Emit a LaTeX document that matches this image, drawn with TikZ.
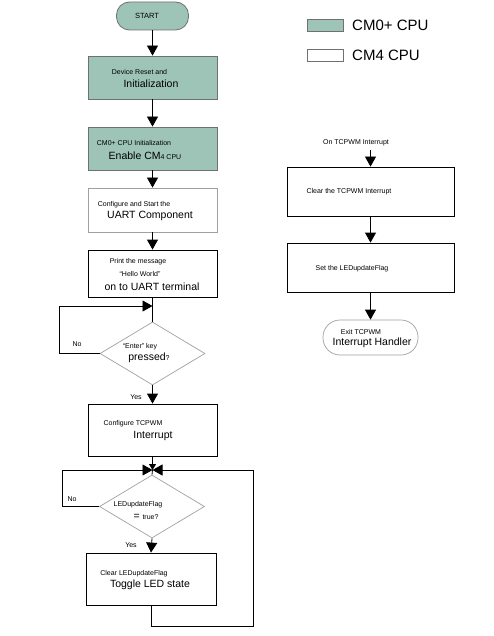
\documentclass[tikz,border=0pt]{standalone}
\usepackage{fontspec}
\setmainfont{Liberation Sans}
\usetikzlibrary{shapes.geometric,arrows.meta,calc}
\definecolor{cmzero}{RGB}{157,196,182}
\definecolor{edgegray}{RGB}{112,112,112}
\definecolor{lightedge}{RGB}{160,160,160}
\newcommand{\smalltxt}{\fontsize{7}{8}\selectfont}
\newcommand{\bigtxt}{\fontsize{10.5}{12}\selectfont}

\begin{document}
\begin{tikzpicture}[x=1pt, y=-1pt,
  arrow/.style={-{Triangle[length=10pt, width=11pt]}, line width=0.8pt},
  minor arrow/.style={-{Triangle[length=6pt, width=7pt]}, line width=0.8pt},
  link/.style={line width=0.8pt},
  box/.style={draw, line width=0.8pt, minimum width=129pt, minimum height=43pt, inner sep=0pt},
  cmbox/.style={box, draw=edgegray, fill=cmzero},
  cmfour/.style={box, draw=lightedge, fill=white},
  plainbox/.style={box, draw=black},
  decision/.style={diamond, draw=lightedge, line width=0.7pt, minimum width=105pt, minimum height=63pt, inner sep=0pt},
  terminal/.style={draw=lightedge, line width=0.7pt, inner sep=0pt},
  small/.style={font=\smalltxt, inner sep=0pt},
  big/.style={font=\bigtxt, inner sep=0pt},
]
\useasboundingbox (0,0) rectangle (494,636);

% === LEGEND ===
\node[cmbox, minimum width=36pt, minimum height=12pt] (leg0) at (325,25) {};
\node[cmfour, draw=edgegray, minimum width=36pt, minimum height=12pt] (leg4) at (325,55) {};
\node[font=\fontsize{15}{17}\selectfont, anchor=west, inner sep=0pt] (leg0txt) at (352,25) {CM0+ CPU};
\node[font=\fontsize{15}{17}\selectfont, anchor=west, inner sep=0pt] (leg4txt) at (352,55) {CM4 CPU};

% === MAIN FLOW (left) ===
\node[cmbox, draw=edgegray, rounded corners=13pt, minimum width=72pt, minimum height=28pt] (start) at (152.5,16) {};
\node[small, font=\fontsize{7.5}{9}\selectfont] (starttxt) at (147,16) {START};

\node[cmbox] (reset) at (152.5,77.5) {};
\node[small] (reset1) at (139.5,72) {Device Reset and};
\node[big] (reset2) at (151,84) {Initialization};

\node[cmbox] (init) at (152.5,148.5) {};
\node[small] (init1) at (134,143) {CM0+ CPU Initialization};
\node[big] (init2) at (145,156) {Enable CM{\smalltxt 4 CPU}};

\node[cmfour, minimum height=44pt] (uart) at (152.5,210) {};
\node[small] (uart1) at (134,205) {Configure and Start the};
\node[big] (uart2) at (150,216) {UART Component};

\node[plainbox, minimum height=47pt] (hello) at (152.5,273.5) {};
\node[small] (hello1) at (138,262) {Print the message};
\node[small] (hello2) at (140,274) {“Hello World”};
\node[big] (hello3) at (152,287) {on to UART terminal};

\node[decision] (enter) at (152.5,353.5) {};
\node[small] (enter1) at (140,347) {“Enter” key};
\node[big] (enter2) at (149,358) {pressed{\smalltxt ?}};
\coordinate (join1) at (152.5,306);
\coordinate (noloop1) at (59,306);

\node[plainbox, minimum height=52pt] (tcpwm) at (152.5,430) {};
\node[small] (tcpwm1) at (133,424) {Configure TCPWM};
\node[big] (tcpwm2) at (153,436) {Interrupt};

\coordinate (merge) at (152.5,470);
\node[decision] (flag) at (152,506.5) {};
\node[small] (flag1) at (138,505) {LEDupdateFlag};
\node[big] (flag2) at (146,517) {= {\smalltxt true?}};
\coordinate (noloop2) at (62,470);

\node[plainbox, minimum width=130pt, minimum height=52pt] (toggle) at (151,579) {};
\node[small] (toggle1) at (134,574) {Clear LEDupdateFlag};
\node[big] (toggle2) at (150,585) {Toggle LED state};
\coordinate (backloop) at (253,626);

\draw[arrow] (start.south) -- (reset.north);
\draw[arrow] (reset.south) -- (init.north);
\draw[arrow] (init.south) -- (uart.north);
\draw[arrow] (uart.south) -- (hello.north);
\draw[link] (hello.south) -- (enter.north);
\draw[arrow] (enter.west) -| (noloop1) -- (join1);
\node[small] (no1) at (77,344) {No};
\draw[arrow] (enter.south) -- (tcpwm.north);
\node[small] (yes1) at (136,397) {Yes};

\draw[minor arrow] (tcpwm.south) -- (merge);
\draw[arrow] (flag.west) -| (noloop2) -- (merge);
\node[small] (no2) at (72,499) {No};
\draw[arrow] (toggle.south) |- (backloop) |- (merge);
\draw[link] (merge) -- (flag.north);
\draw[arrow] (flag.south) -- (toggle.north);
\node[small] (yes2) at (131,545) {Yes};

% === TCPWM INTERRUPT HANDLER (right) ===
\node[small] (isr) at (356,143) {On TCPWM Interrupt};
\node[plainbox, minimum width=167pt, minimum height=49pt] (clearint) at (370.5,191.5) {};
\node[small] (clearint1) at (349,192) {Clear the TCPWM Interrupt};
\node[plainbox, minimum width=167pt, minimum height=49pt] (setflag) at (370.5,267.5) {};
\node[small] (setflag1) at (352,269) {Set the LEDupdateFlag};
\node[terminal, rounded corners=17pt, minimum width=95pt, minimum height=35pt] (exit) at (370.5,337.5) {};
\node[small] (exit1) at (361,332) {Exit TCPWM};
\node[big] (exit2) at (372,343) {Interrupt Handler};

\draw[arrow] ($(clearint.north |- isr.south)+(0,4)$) -- (clearint.north);
\draw[arrow] (clearint.south) -- (setflag.north);
\draw[arrow] (setflag.south) -- (exit.north);
\end{tikzpicture}
\end{document}
